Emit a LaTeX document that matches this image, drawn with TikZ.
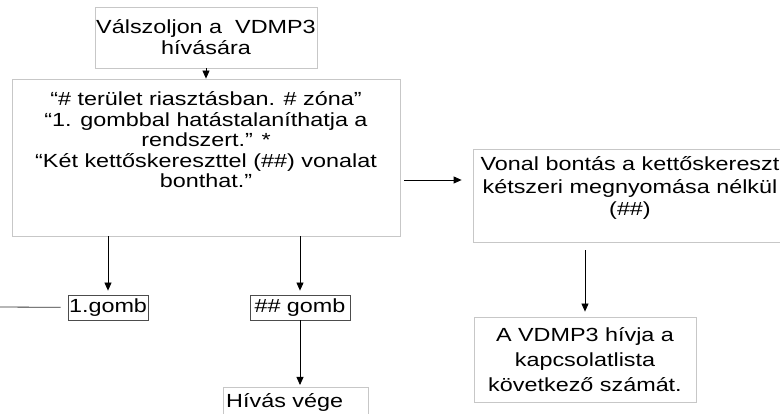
\documentclass[tikz,border=0pt]{standalone}
\usepackage{fontspec}
\setmainfont{Liberation Sans}[FakeStretch=1.23]
\usetikzlibrary{positioning}
\usetikzlibrary{arrows.meta}

\begin{document}
\begin{tikzpicture}[
    x=1pt, y=-1pt, >={Triangle[width=7pt,length=8pt]},
    % box styles
    flow box/.style={
        draw=black!22,
        fill=white,
        line width=0.8pt,
        inner sep=0pt,
        align=center,
        font=\fontsize{19}{21}\selectfont
    },
    flow text/.style={
        align=center,
        inner sep=0pt,
        font=\fontsize{19}{20.5}\selectfont
    },
    key box/.style={
        draw=black!70,
        line width=0.8pt,
        inner sep=1pt,
        font=\fontsize{19}{21}\selectfont
    },
    % edge styles
    flow edge/.style={->, draw=black, line width=0.8pt},
    plain edge/.style={draw=black!80, line width=0.8pt}
]
\useasboundingbox (0,0) rectangle (780,414);

% -------------------------------
% Hívás fogadása
\node[flow box, minimum width=222, minimum height=61] (answer) at (206,37.5)
    {Válszoljon a\ \ VDMP3\\hívására};

% -------------------------------
% Bemondott szöveg
\node[flow box, minimum width=388, minimum height=157] (prompt) at (206,157.5) {};
\node[flow text] (prompt text) at (206,140)
    {“\# terület riasztásban. \# zóna”\\
     “1. gombbal hatástalaníthatja a\\
     rendszert.” *\\
     “Két kettőskereszttel (\#\#) vonalat\\
     bonthat.”};

% -------------------------------
% Jobb oldali ág
\node[flow box, minimum width=314, minimum height=93] (nohash) at (630,195.5) {};
\node[flow text, font=\fontsize{19}{22.5}\selectfont] (nohash text) at (630,188)
    {Vonal bontás a kettőskereszt\\
     kétszeri megnyomása nélkül\\
     (\#\#)};
\node[flow box, minimum width=222, minimum height=85,
      font=\fontsize{19}{25}\selectfont] (nextcall) at (585,359.5)
    {A VDMP3 hívja a\\kapcsolatlista\\következő számát.};

% -------------------------------
% Gombok
\node[key box, minimum width=79, minimum height=25] (key1) at (108,307.5) {1.gomb};
\node[key box, minimum width=100, minimum height=25] (keyhash) at (300,307.5) {\#\# gomb};
\node[flow box, minimum width=145, minimum height=58, anchor=north west] (hangup) at (223,387) {};
\node[flow text, anchor=north west] (hangup text) at (226,393) {Hívás vége};

% -------------------------------
% Nyilak
\coordinate (from left) at (-5,307);
\coordinate (row) at (0,180);
\draw[flow edge] (answer) -- (prompt);
\draw[flow edge, shorten <=4pt, shorten >=11pt] (prompt.east |- row) -- (nohash.west |- row);
\draw[flow edge, shorten >=4pt] (prompt.south -| key1) -- (key1);
\draw[flow edge, shorten >=4pt] (prompt.south -| keyhash) -- (keyhash);
\draw[flow edge, shorten >=2pt] (keyhash) -- (hangup.north -| keyhash);
\draw[flow edge, shorten <=8pt, shorten >=5pt] (nohash.south -| nextcall) -- (nextcall);
\draw[plain edge, shorten >=7pt] (from left) -- (key1);

\end{tikzpicture}
\end{document}
